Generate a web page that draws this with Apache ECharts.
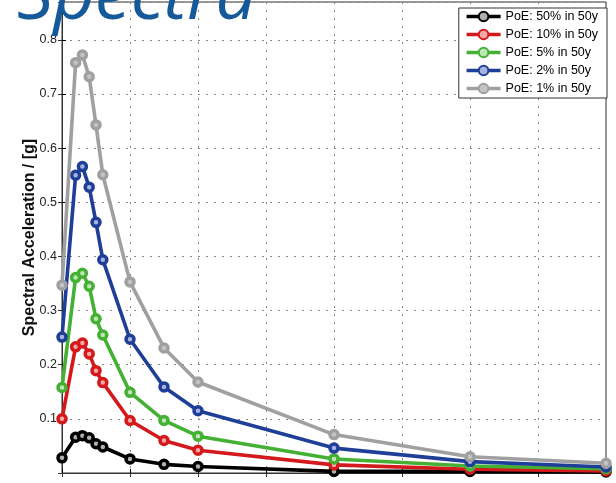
<!DOCTYPE html>
<html>
<head>
<meta charset="utf-8">
<script src="https://cdn.jsdelivr.net/npm/echarts@6/dist/echarts.min.js"></script>
<style>
html,body{margin:0;padding:0;background:#fff;}
#chart{width:616px;height:483px;}
</style>
</head>
<body>
<div id="chart"></div>
<script>
// Period [s]
var periods = [0, 0.1, 0.15, 0.2, 0.25, 0.3, 0.5, 0.75, 1.0, 2.0, 3.0, 4.0];
// Spectral acceleration [g]
var poe50 = [0.028, 0.066, 0.069, 0.065, 0.054, 0.048, 0.026, 0.016, 0.012, 0.003, 0.003, 0.002];
var poe10 = [0.100, 0.233, 0.240, 0.220, 0.189, 0.167, 0.097, 0.060, 0.042, 0.015, 0.007, 0.004];
var poe5  = [0.158, 0.361, 0.369, 0.345, 0.285, 0.255, 0.149, 0.097, 0.068, 0.026, 0.013, 0.008];
var poe2  = [0.251, 0.550, 0.566, 0.528, 0.463, 0.394, 0.247, 0.159, 0.115, 0.046, 0.021, 0.011];
var poe1  = [0.347, 0.758, 0.772, 0.732, 0.643, 0.551, 0.353, 0.231, 0.168, 0.071, 0.030, 0.018];
var seriesNames = ['PoE: 50% in 50y', 'PoE: 10% in 50y', 'PoE: 5% in 50y', 'PoE: 2% in 50y', 'PoE: 1% in 50y'];
var seriesValues = [poe50, poe10, poe5, poe2, poe1];
var titleText = 'Spectra';
var yAxisTitle = 'Spectral Acceleration / [g]';

var colors = ['#000000', '#d4191c', '#44b034', '#1f3e98', '#a0a0a0'];
var centers = ['#b0b0b0', '#f4a8a8', '#bfe6b5', '#a8b4e0', '#c4c4c4'];

function pairs(vals) {
  return periods.map(function (p, i) { return [p, vals[i]]; });
}

var series = seriesNames.map(function (name, k) {
  return {
    name: name,
    type: 'line',
    data: pairs(seriesValues[k]),
    xAxisIndex: 0,
    yAxisIndex: 0,
    symbol: 'circle',
    symbolSize: 8,
    showAllSymbol: true,
    lineStyle: { color: colors[k], width: 3.6 },
    itemStyle: { color: centers[k], borderColor: colors[k], borderWidth: 3.5 },
    emphasis: { disabled: true },
    animation: false,
    z: 2 + k
  };
});

var chart = echarts.init(document.getElementById('chart'), null, { renderer: 'canvas' });
chart.setOption({
  animation: false,
  backgroundColor: '#ffffff',
  grid: {
    left: 62, right: 10, top: 2, bottom: 10,
    show: true, borderColor: '#333', borderWidth: 1, backgroundColor: 'transparent'
  },
  graphic: [{
    type: 'text',
    x: 17, y: -2,
    z: 100,
    style: {
      text: titleText,
      font: 'italic 72px "Open Sans"',
      fill: '#15599b',
      verticalAlign: 'middle'
    }
  }],
  legend: {
    right: 9, top: 8,
    orient: 'vertical',
    backgroundColor: '#ffffff',
    borderColor: '#333',
    borderWidth: 1,
    borderRadius: 0,
    padding: [2, 9, 3, 6],
    itemWidth: 34, itemHeight: 12, itemGap: 5,
    lineStyle: { width: 3.6 },
    textStyle: { fontFamily: '"Liberation Sans", Arial, sans-serif', fontSize: 12.5, color: '#000' },
    data: seriesNames
  },
  xAxis: [{
    type: 'value', min: 0, max: 4, interval: 0.5,
    position: 'bottom',
    axisLine: { show: true, onZero: false, lineStyle: { color: '#000', width: 1 } },
    axisTick: { show: true, inside: true, length: 4, lineStyle: { color: '#000' } },
    axisLabel: { show: false },
    splitLine: { show: true, lineStyle: { color: '#888', type: [2, 6], width: 1 } }
  }, {
    type: 'value', min: 0, max: 4, interval: 0.5,
    position: 'top',
    axisLine: { show: true, lineStyle: { color: '#333', width: 1 } },
    axisTick: { show: true, inside: true, length: 4, lineStyle: { color: '#333' } },
    axisLabel: { show: false },
    splitLine: { show: false }
  }],
  yAxis: [{
    type: 'value', min: 0, max: 0.87, interval: 0.1,
    position: 'left',
    name: yAxisTitle,
    nameLocation: 'middle',
    nameGap: 24,
    nameMoveOverlap: false,
    nameTextStyle: { fontFamily: '"Liberation Sans", Arial, sans-serif', fontSize: 16, fontWeight: 'bold', color: '#111' },
    axisLine: { show: true, onZero: false, lineStyle: { color: '#000', width: 1 } },
    axisTick: { show: true, inside: true, length: 4, lineStyle: { color: '#000' } },
    axisLabel: {
      showMinLabel: false, showMaxLabel: false, margin: 5,
      fontFamily: '"Liberation Sans", Arial, sans-serif', fontSize: 12.5, color: '#222',
      formatter: function (v) { return v.toFixed(1); }
    },
    splitLine: { show: true, lineStyle: { color: '#888', type: [2, 6], width: 1 } }
  }, {
    type: 'value', min: 0, max: 0.87, interval: 0.1,
    position: 'right',
    axisLine: { show: true, lineStyle: { color: '#333', width: 1 } },
    axisTick: { show: true, inside: true, length: 4, lineStyle: { color: '#333' } },
    axisLabel: { show: false },
    splitLine: { show: false }
  }],
  series: series
});
</script>
</body>
</html>
